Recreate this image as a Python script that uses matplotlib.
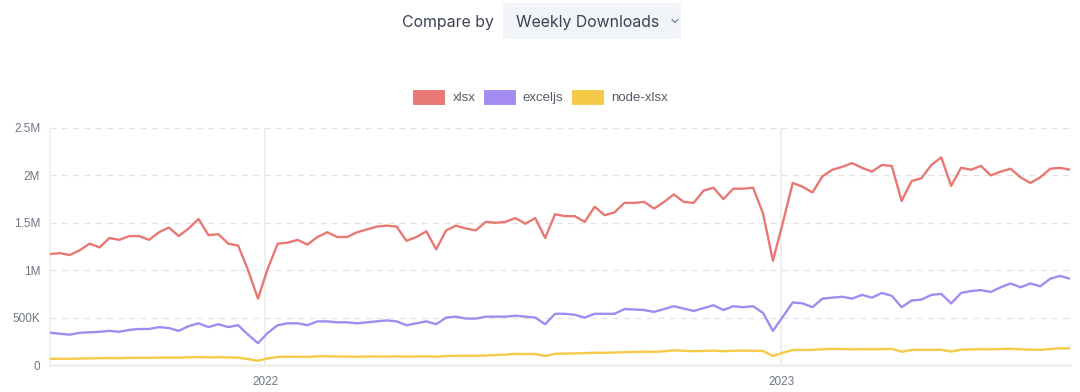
#weekly downloads chart: xlsx vs exceljs vs node-xlsx
import matplotlib
matplotlib.use("Agg")
import matplotlib.pyplot as plt
import matplotlib.dates as mdates
from matplotlib.patches import Patch, FancyBboxPatch
from matplotlib.lines import Line2D
from matplotlib.ticker import FuncFormatter
import pandas as pd

# weekly points, first week starting 2021-08-02
weeks = pd.date_range("2021-08-02", periods=104, freq="7D")

# values in millions
xlsx = [1.17, 1.18, 1.16, 1.21, 1.28, 1.24, 1.34, 1.32, 1.36, 1.36,
        1.32, 1.40, 1.45, 1.36, 1.44, 1.54, 1.37, 1.38, 1.28, 1.26,
        1.00, 0.70, 1.02, 1.28, 1.29, 1.32, 1.27, 1.35, 1.40, 1.35,
        1.35, 1.40, 1.43, 1.46, 1.47, 1.46, 1.31, 1.35, 1.41, 1.22,
        1.42, 1.47, 1.44, 1.42, 1.51, 1.50, 1.51, 1.55, 1.49, 1.55,
        1.34, 1.59, 1.57, 1.57, 1.51, 1.67, 1.58, 1.61, 1.71, 1.71,
        1.72, 1.65, 1.72, 1.80, 1.72, 1.71, 1.84, 1.87, 1.75, 1.86,
        1.86, 1.87, 1.60, 1.10, 1.50, 1.92, 1.88, 1.82, 1.99, 2.06,
        2.09, 2.13, 2.08, 2.04, 2.11, 2.10, 1.73, 1.94, 1.97, 2.11,
        2.19, 1.89, 2.08, 2.06, 2.10, 2.00, 2.04, 2.07, 1.98, 1.92,
        1.98, 2.07, 2.08, 2.06]

exceljs = [0.34, 0.33, 0.32, 0.34, 0.345, 0.35, 0.36, 0.35, 0.37, 0.38,
           0.38, 0.40, 0.39, 0.36, 0.41, 0.44, 0.40, 0.43, 0.40, 0.42,
           0.32, 0.23, 0.34, 0.42, 0.44, 0.44, 0.42, 0.46, 0.46, 0.45,
           0.45, 0.44, 0.45, 0.46, 0.47, 0.46, 0.42, 0.44, 0.46, 0.43,
           0.50, 0.51, 0.49, 0.49, 0.51, 0.51, 0.51, 0.52, 0.51, 0.50,
           0.43, 0.54, 0.54, 0.53, 0.50, 0.54, 0.54, 0.54, 0.59, 0.585,
           0.58, 0.56, 0.59, 0.62, 0.595, 0.57, 0.60, 0.63, 0.58, 0.62,
           0.61, 0.62, 0.55, 0.36, 0.51, 0.66, 0.65, 0.61, 0.70, 0.71,
           0.72, 0.70, 0.74, 0.71, 0.76, 0.73, 0.61, 0.68, 0.69, 0.74,
           0.75, 0.65, 0.76, 0.78, 0.79, 0.77, 0.82, 0.86, 0.82, 0.86,
           0.83, 0.91, 0.94, 0.91]

node_xlsx = [0.065, 0.066, 0.065, 0.068, 0.070, 0.072, 0.073, 0.072, 0.075, 0.076,
             0.075, 0.078, 0.080, 0.077, 0.082, 0.083, 0.080, 0.082, 0.080, 0.078,
             0.062, 0.045, 0.070, 0.085, 0.088, 0.086, 0.085, 0.092, 0.093, 0.090,
             0.088, 0.087, 0.090, 0.090, 0.088, 0.092, 0.088, 0.090, 0.092, 0.087,
             0.095, 0.097, 0.098, 0.097, 0.100, 0.105, 0.110, 0.118, 0.115, 0.117,
             0.095, 0.118, 0.120, 0.122, 0.125, 0.130, 0.128, 0.132, 0.135, 0.138,
             0.140, 0.138, 0.145, 0.155, 0.150, 0.145, 0.148, 0.152, 0.145, 0.150,
             0.152, 0.150, 0.148, 0.095, 0.130, 0.158, 0.158, 0.160, 0.165, 0.170,
             0.168, 0.165, 0.167, 0.165, 0.168, 0.170, 0.140, 0.158, 0.160, 0.160,
             0.160, 0.142, 0.162, 0.165, 0.166, 0.165, 0.168, 0.172, 0.165, 0.162,
             0.160, 0.168, 0.176, 0.175]

names = ["xlsx", "exceljs", "node-xlsx"]
colors = ["#E87873", "#A38BF1", "#F4CA47"]

W, H = 1080, 392
fig = plt.figure(figsize=(W / 100, H / 100), dpi=100)
fig.patch.set_facecolor("white")

ax = fig.add_axes([50 / W, 1 - 365 / H, 1020 / W, 237 / H])

for vals, c in zip([xlsx, exceljs, node_xlsx], colors):
    ax.plot(weeks, [v * 1e6 for v in vals], color=c, lw=1.7,
            solid_joinstyle="round", solid_capstyle="round", zorder=3)

ax.set_xlim(weeks[0], weeks[-1])
ax.set_ylim(0, 2.5e6)
ax.set_yticks([0, 5e5, 1e6, 1.5e6, 2e6, 2.5e6])


def fmt(v, pos):
    if v == 0:
        return "0"
    if v >= 1e6:
        return "%gM" % (v / 1e6)
    return "%gK" % (v / 1e3)


ax.yaxis.set_major_formatter(FuncFormatter(fmt))
ax.xaxis.set_major_locator(mdates.YearLocator())
ax.xaxis.set_major_formatter(mdates.DateFormatter("%Y"))

for s in ["top", "right"]:
    ax.spines[s].set_visible(False)
ax.spines["left"].set_color("#eeeeee")
ax.spines["left"].set_linewidth(1.2)
ax.spines["bottom"].set_color("#eeeeee")
ax.spines["bottom"].set_linewidth(1.8)

ax.grid(axis="y", color="#e3e3e3", linestyle=(0, (5, 4)), lw=0.9, zorder=0)
ax.grid(axis="x", color="#ececec", linestyle="-", lw=1.2, zorder=0)

ax.tick_params(axis="both", length=0, labelsize=8.5, colors="#6e7687")
ax.tick_params(axis="y", pad=7)
ax.tick_params(axis="x", pad=8)
for lab in ax.get_xticklabels() + ax.get_yticklabels():
    lab.set_family("Liberation Sans")

# legend
handles = [Patch(facecolor=c, edgecolor="white", lw=0.8) for c in colors]
fig.legend(handles, names, loc="center", ncol=3, frameon=False,
           bbox_to_anchor=(0.5, 1 - 97 / H), handlelength=2.5, handleheight=1.6,
           handletextpad=0.55, columnspacing=0.55,
           prop={"family": "Liberation Sans", "size": 9.5}, labelcolor="#555a66")

# header with the fake dropdown
box = FancyBboxPatch((503 / W, 1 - 39 / H), 178 / W, 36 / H,
                     boxstyle="round,pad=0,rounding_size=0.004",
                     transform=fig.transFigure, facecolor="#F1F4F9",
                     edgecolor="none")
fig.patches.append(box)
fig.text(402 / W, 1 - 22 / H, "Compare by", family="Inter", fontsize=11.4,
         color="#3B4252", va="center", ha="left")
fig.text(516 / W, 1 - 22 / H, "Weekly Downloads", family="Inter", fontsize=11.4,
         color="#3B4252", va="center", ha="left")
fig.lines.append(Line2D([672 / W, 675 / W, 678 / W],
                        [1 - 19.5 / H, 1 - 22.5 / H, 1 - 19.5 / H],
                        transform=fig.transFigure, color="#6b7280", lw=0.8))

fig.savefig("out.png", dpi=100, facecolor="white")
